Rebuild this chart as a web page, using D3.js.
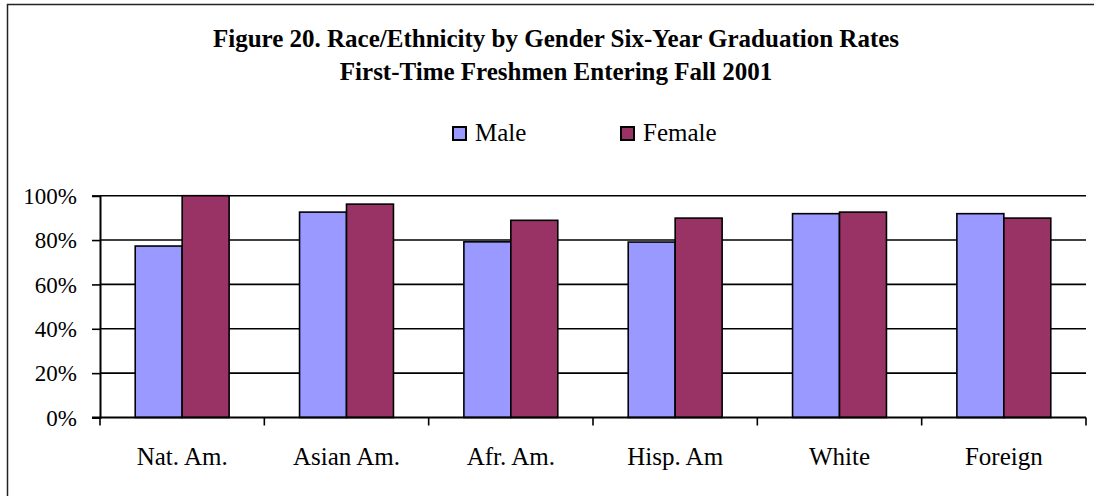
<!DOCTYPE html>
<html>
<head>
<meta charset="utf-8">
<script src="https://cdn.jsdelivr.net/npm/d3@7"></script>
<style>
  body { margin: 0; background: #fff; }
</style>
</head>
<body>
<div id="chart"></div>
<script>
// chart data
var categories = ["Nat. Am.", "Asian Am.", "Afr. Am.", "Hisp. Am", "White", "Foreign"];
var series = ["Male", "Female"];
var maleRates = [0.773, 0.926, 0.792, 0.791, 0.919, 0.919];
var femaleRates = [1.0, 0.962, 0.889, 0.899, 0.926, 0.899];
var yTicks = [0, 0.2, 0.4, 0.6, 0.8, 1.0];
var titleLines = ["Figure 20. Race/Ethnicity by Gender Six-Year Graduation Rates",
                  "First-Time Freshmen Entering Fall 2001"];

var FONT = "'Liberation Serif', 'Times New Roman', Times, serif";
var W = 1094, H = 496;
var plot = {left: 100, right: 1086, top: 195.7, bottom: 417.5};

var color = d3.scaleOrdinal().domain(series).range(["#9999FF", "#993366"]);

var data = categories.map(function(c, i) {
  return {cat: c, values: [{key: "Male", v: maleRates[i]}, {key: "Female", v: femaleRates[i]}]};
});

var svg = d3.select("#chart").append("svg")
    .attr("width", W)
    .attr("height", H)
    .attr("font-family", FONT);

// outer chart border (runs off the right and bottom edge)
svg.append("rect")
    .attr("x", 7.5).attr("y", 4.5)
    .attr("width", W + 20).attr("height", H + 20)
    .attr("fill", "#fff")
    .attr("stroke", "#222")
    .attr("stroke-width", 1.5);

var x0 = d3.scaleBand().domain(categories).range([plot.left, plot.right]);
var group = x0.bandwidth() * 2 / 3.5;
var off = (x0.bandwidth() - group) / 2;
var x1 = d3.scaleBand().domain(series).range([off, off + group]);
var y = d3.scaleLinear().domain([0, 1]).range([plot.bottom, plot.top]);

// gridlines
svg.append("g")
  .selectAll("line")
  .data(yTicks.slice(1))
  .enter().append("line")
    .attr("x1", plot.left).attr("x2", plot.right)
    .attr("y1", function(d) { return y(d); })
    .attr("y2", function(d) { return y(d); })
    .attr("stroke", "#000")
    .attr("stroke-width", 1.6);

// bars
var groups = svg.append("g").selectAll("g")
    .data(data)
    .enter().append("g")
    .attr("transform", function(d) { return "translate(" + x0(d.cat) + ",0)"; });

groups.selectAll("rect")
    .data(function(d) { return d.values; })
    .enter().append("rect")
    .attr("x", function(d) { return x1(d.key); })
    .attr("y", function(d) { return y(d.v); })
    .attr("width", x1.bandwidth())
    .attr("height", function(d) { return y(0) - y(d.v); })
    .attr("fill", function(d) { return color(d.key); })
    .attr("stroke", "#000")
    .attr("stroke-width", 1.6);

// y axis
var yAxis = svg.append("g")
    .attr("transform", "translate(" + plot.left + ",0)")
    .call(d3.axisLeft(y).tickValues(yTicks).tickFormat(d3.format(".0%")).tickSize(8).tickPadding(15));
yAxis.attr("font-family", FONT).attr("font-size", 23);
yAxis.select(".domain").attr("stroke", "#000").attr("stroke-width", 2);
yAxis.selectAll(".tick line").attr("stroke", "#000").attr("stroke-width", 1.6);
yAxis.selectAll(".tick text")
    .style("font-family", FONT)
    .style("font-size", "23px")
    .attr("fill", "#000")
    .attr("dy", "0.33em");

// x axis line and ticks at category boundaries
var xg = svg.append("g");
xg.append("line")
    .attr("x1", plot.left - 8).attr("x2", plot.right)
    .attr("y1", plot.bottom).attr("y2", plot.bottom)
    .attr("stroke", "#000").attr("stroke-width", 2);
xg.selectAll(".xtick")
    .data(categories.map(function(c) { return x0(c); }).concat([plot.right]))
    .enter().append("line")
    .attr("class", "xtick")
    .attr("x1", function(d) { return d; }).attr("x2", function(d) { return d; })
    .attr("y1", plot.bottom).attr("y2", plot.bottom + 8)
    .attr("stroke", "#000").attr("stroke-width", 1.6);
xg.selectAll(".xlabel")
    .data(categories)
    .enter().append("text")
    .attr("class", "xlabel")
    .attr("x", function(d) { return x0(d) + x0.bandwidth() / 2; })
    .attr("y", 465)
    .attr("text-anchor", "middle")
    .style("font-family", FONT)
    .style("font-size", "25px")
    .text(function(d) { return d; });

// title
svg.selectAll(".title")
    .data(titleLines)
    .enter().append("text")
    .attr("class", "title")
    .attr("x", 556)
    .attr("y", function(d, i) { return 47 + i * 33; })
    .attr("text-anchor", "middle")
    .style("font-family", FONT)
    .style("font-size", "25px")
    .style("font-weight", "bold")
    .text(function(d) { return d; });

// legend
var legend = svg.selectAll(".legend")
    .data(series)
    .enter().append("g")
    .attr("class", "legend")
    .attr("transform", function(d, i) { return "translate(" + (453 + i * 168) + ",127)"; });

legend.append("rect")
    .attr("width", 13).attr("height", 13)
    .attr("fill", function(d) { return color(d); })
    .attr("stroke", "#000")
    .attr("stroke-width", 2);

legend.append("text")
    .attr("x", 22)
    .attr("y", 14)
    .style("font-family", FONT)
    .style("font-size", "25px")
    .text(function(d) { return d; });
</script>
</body>
</html>
